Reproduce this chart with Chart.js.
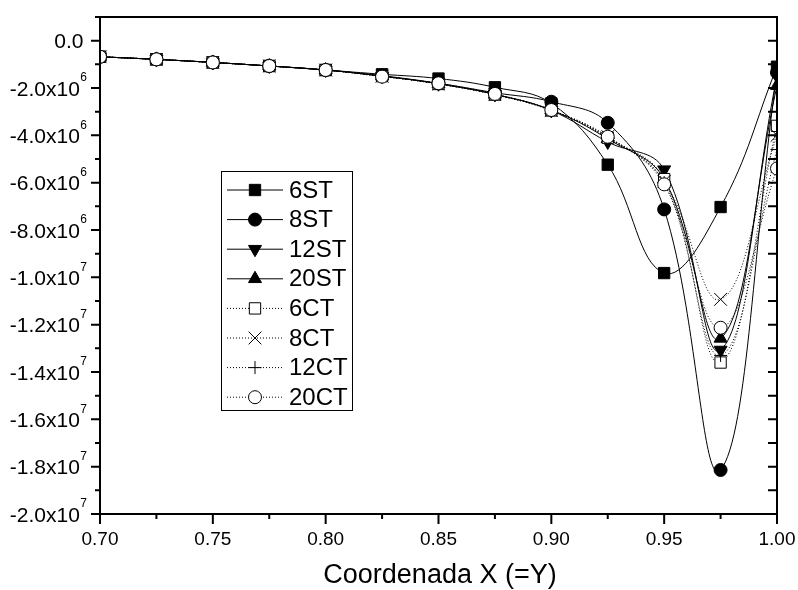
<!DOCTYPE html>
<html>
<head>
<meta charset="utf-8">
<script src="https://cdn.jsdelivr.net/npm/chart.js@4.4.1/dist/chart.umd.min.js"></script>
<style>
html,body{margin:0;padding:0;background:#fff;}
canvas{display:block;}
</style>
</head>
<body>
<canvas id="c" width="798" height="590"></canvas>
<script>
// ---- data ----
const xValues = [0.70, 0.725, 0.75, 0.775, 0.80, 0.825, 0.85, 0.875, 0.90, 0.925, 0.95, 0.975, 1.00];
const seriesNames = ['6ST', '8ST', '12ST', '20ST', '6CT', '8CT', '12CT', '20CT'];
const s6ST  = [-0.68e6, -0.79e6, -0.92e6, -1.07e6, -1.24e6, -1.42e6, -1.60e6, -1.97e6, -2.65e6, -5.24e6, -9.82e6, -7.03e6, -1.10e6];
const s8ST  = [-0.68e6, -0.79e6, -0.92e6, -1.07e6, -1.24e6, -1.48e6, -1.80e6, -2.20e6, -2.58e6, -3.47e6, -7.13e6, -18.14e6, -1.35e6];
const s12ST = [-0.68e6, -0.79e6, -0.92e6, -1.07e6, -1.24e6, -1.50e6, -1.82e6, -2.27e6, -2.95e6, -4.28e6, -5.45e6, -13.07e6, -1.50e6];
const s20ST = [-0.68e6, -0.79e6, -0.92e6, -1.07e6, -1.24e6, -1.50e6, -1.82e6, -2.27e6, -2.93e6, -4.15e6, -5.85e6, -12.58e6, -1.90e6];
const s6CT  = [-0.68e6, -0.79e6, -0.92e6, -1.07e6, -1.24e6, -1.50e6, -1.83e6, -2.28e6, -2.95e6, -4.10e6, -5.85e6, -13.60e6, -3.60e6];
const s8CT  = [-0.68e6, -0.79e6, -0.92e6, -1.07e6, -1.24e6, -1.50e6, -1.83e6, -2.28e6, -2.95e6, -4.05e6, -5.95e6, -10.93e6, -4.00e6];
const s12CT = [-0.68e6, -0.79e6, -0.92e6, -1.07e6, -1.24e6, -1.50e6, -1.83e6, -2.28e6, -2.95e6, -4.10e6, -6.00e6, -13.30e6, -4.60e6];
const s20CT = [-0.68e6, -0.79e6, -0.92e6, -1.07e6, -1.24e6, -1.52e6, -1.80e6, -2.25e6, -2.93e6, -4.06e6, -6.07e6, -12.13e6, -5.40e6];
const xTickValues = [0.70, 0.75, 0.80, 0.85, 0.90, 0.95, 1.00];
const xMinorTicks = [0.725, 0.775, 0.825, 0.875, 0.925, 0.975];
const yTickValues = [0, -2e6, -4e6, -6e6, -8e6, -1e7, -1.2e7, -1.4e7, -1.6e7, -1.8e7, -2e7];
const yMinorTicks = [1e6, -1e6, -3e6, -5e6, -7e6, -9e6, -1.1e7, -1.3e7, -1.5e7, -1.7e7, -1.9e7];
const xTitle = 'Coordenada X (=Y)';

// ---- styles ----
const allSeries = [s6ST, s8ST, s12ST, s20ST, s6CT, s8CT, s12CT, s20CT];
const styles = [
  {ps: 'rect', r: 8, rot: 0, fill: '#000', dash: []},
  {ps: 'circle', r: 6.5, rot: 0, fill: '#000', dash: []},
  {ps: 'triangle', r: 7.5, rot: 180, fill: '#000', dash: []},
  {ps: 'triangle', r: 7.5, rot: 0, fill: '#000', dash: []},
  {ps: 'rect', r: 8, rot: 0, fill: '#fff', dash: [1, 2]},
  {ps: 'crossRot', r: 9, rot: 0, fill: '#fff', dash: [1, 2]},
  {ps: 'cross', r: 6.5, rot: 0, fill: '#fff', dash: [1, 2]},
  {ps: 'circle', r: 6.5, rot: 0, fill: '#fff', dash: [1, 2]}
];

const datasets = allSeries.map((s, i) => ({
  label: seriesNames[i],
  data: xValues.map((x, j) => ({x: x, y: s[j]})),
  borderColor: '#000',
  borderWidth: 1,
  borderDash: styles[i].dash,
  backgroundColor: styles[i].fill,
  pointStyle: styles[i].ps,
  pointRadius: styles[i].r,
  pointRotation: styles[i].rot,
  pointBorderColor: '#000',
  pointBackgroundColor: styles[i].fill,
  pointBorderWidth: 1,
  tension: 0.4,
  fill: false,
  clip: 0,
  order: 7 - i
}));

function fmtY(v) {
  if (v === 0) return {main: '0.0', sup: ''};
  const e = Math.floor(Math.log10(Math.abs(v)) + 1e-9);
  const m = v / Math.pow(10, e);
  return {main: m.toFixed(1) + 'x10', sup: String(e)};
}

const axesPlugin = {
  id: 'originAxes',
  afterDraw(chart) {
    const ctx = chart.ctx;
    const a = chart.chartArea;
    const xs = chart.scales.x, ys = chart.scales.y;
    ctx.save();
    ctx.strokeStyle = '#000';
    ctx.fillStyle = '#000';
    ctx.setLineDash([]);
    // frame
    ctx.lineWidth = 2;
    ctx.strokeRect(a.left, a.top, a.right - a.left, a.bottom - a.top);
    ctx.lineWidth = 2;
    ctx.beginPath();
    // x ticks
    xTickValues.forEach(v => {
      const px = xs.getPixelForValue(v);
      ctx.moveTo(px, a.bottom); ctx.lineTo(px, a.bottom + 10);
    });
    xMinorTicks.forEach(v => {
      const px = xs.getPixelForValue(v);
      ctx.moveTo(px, a.bottom); ctx.lineTo(px, a.bottom + 5);
    });
    // y ticks
    yTickValues.forEach(v => {
      const py = ys.getPixelForValue(v);
      ctx.moveTo(a.left, py); ctx.lineTo(a.left - 9, py);
      ctx.moveTo(a.right, py); ctx.lineTo(a.right - 9, py);
    });
    yMinorTicks.forEach(v => {
      const py = ys.getPixelForValue(v);
      ctx.moveTo(a.left, py); ctx.lineTo(a.left - 5, py);
      ctx.moveTo(a.right, py); ctx.lineTo(a.right - 9, py);
    });
    ctx.stroke();
    // x labels
    ctx.font = '19px "Liberation Sans", Arial, sans-serif';
    ctx.textAlign = 'center';
    ctx.textBaseline = 'middle';
    xTickValues.forEach(v => {
      const px = xs.getPixelForValue(v);
      ctx.fillText(v.toFixed(2), px, a.bottom + 26);
    });
    // y labels
    yTickValues.forEach(v => {
      const py = ys.getPixelForValue(v);
      const t = fmtY(v);
      ctx.font = '12px "Liberation Sans", Arial, sans-serif';
      const sw = t.sup ? ctx.measureText(t.sup).width : 0;
      const right = t.sup ? 87 : 84;
      ctx.textAlign = 'right';
      ctx.textBaseline = 'middle';
      if (t.sup) ctx.fillText(t.sup, right, py - 10);
      ctx.font = '21px "Liberation Sans", Arial, sans-serif';
      ctx.fillText(t.main, right - sw - 0.5, py + 2);
    });
    // x title
    ctx.font = '27px "Liberation Sans", Arial, sans-serif';
    ctx.textAlign = 'center';
    ctx.textBaseline = 'middle';
    ctx.fillText(xTitle, 440, 576);
    // legend
    const lx = 221, ly = 171, lw = 131, lh = 239;
    ctx.fillStyle = '#fff';
    ctx.fillRect(lx, ly, lw, lh);
    ctx.lineWidth = 1;
    ctx.strokeStyle = '#000';
    ctx.strokeRect(lx + 0.5, ly + 0.5, lw, lh);
    const rowY0 = 190, rowDy = 29.6;
    chart.data.datasets.forEach((ds, i) => {
      const y = rowY0 + i * rowDy;
      ctx.lineWidth = 1;
      ctx.strokeStyle = '#000';
      ctx.setLineDash(ds.borderDash);
      ctx.beginPath();
      ctx.moveTo(227, y); ctx.lineTo(283, y);
      ctx.stroke();
      ctx.setLineDash([]);
      ctx.fillStyle = ds.pointBackgroundColor;
      ctx.strokeStyle = '#000';
      Chart.helpers.drawPoint(ctx, {pointStyle: ds.pointStyle, radius: ds.pointRadius, rotation: ds.pointRotation, borderWidth: 1}, 255, y);
      ctx.fillStyle = '#000';
      ctx.font = '24px "Liberation Sans", Arial, sans-serif';
      ctx.textAlign = 'left';
      ctx.textBaseline = 'middle';
      ctx.fillText(ds.label, 289, y + 1);
    });
    ctx.restore();
  }
};

new Chart(document.getElementById('c'), {
  type: 'line',
  data: {datasets: datasets},
  options: {
    responsive: false,
    animation: false,
    devicePixelRatio: 1,
    layout: {padding: {left: 100, right: 21, top: 17, bottom: 76}},
    scales: {
      x: {type: 'linear', min: 0.70, max: 1.00, display: false},
      y: {type: 'linear', min: -2e7, max: 1e6, display: false}
    },
    plugins: {legend: {display: false}, tooltip: {enabled: false}}
  },
  plugins: [axesPlugin]
});
</script>
</body>
</html>
